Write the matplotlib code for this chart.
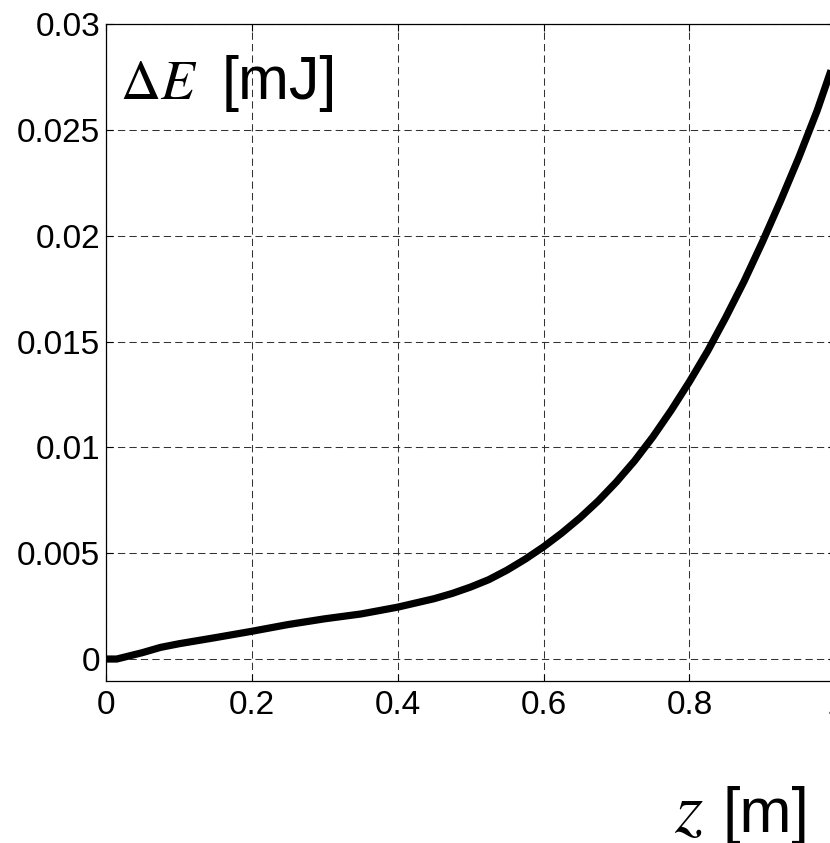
import matplotlib
matplotlib.use("Agg")
import matplotlib.pyplot as plt

plt.rcParams["font.family"] = ["Liberation Sans", "DejaVu Sans"]
plt.rcParams["mathtext.fontset"] = "stix"

# Energy change along the propagation distance
z_m = [0.0, 0.015, 0.05, 0.075, 0.1, 0.15, 0.2, 0.25, 0.3, 0.35, 0.4, 0.45,
       0.475, 0.5, 0.525, 0.55, 0.575, 0.6, 0.625, 0.65, 0.675, 0.7, 0.725,
       0.75, 0.775, 0.8, 0.825, 0.85, 0.875, 0.9, 0.925, 0.95, 0.975, 1.0]
dE_mJ = [0.0, 0.0, 0.00030, 0.00055, 0.00072, 0.00101, 0.00131, 0.00163,
         0.00190, 0.00213, 0.00245, 0.00285, 0.00310, 0.00340, 0.00375,
         0.00420, 0.00472, 0.00530, 0.00595, 0.00667, 0.00747, 0.00837,
         0.00937, 0.01050, 0.01175, 0.01310, 0.01455, 0.01615, 0.01785,
         0.01970, 0.02165, 0.02370, 0.02590, 0.02840]

x_ticks = [0, 0.2, 0.4, 0.6, 0.8, 1.0]
x_ticklabels = ["0", "0.2", "0.4", "0.6", "0.8", "1"]
y_ticks = [0, 0.005, 0.01, 0.015, 0.02, 0.025, 0.03]
y_ticklabels = ["0", "0.005", "0.01", "0.015", "0.02", "0.025", "0.03"]

fig = plt.figure(figsize=(8.30, 8.43), dpi=100)
ax = fig.add_axes([0.1275, 0.1925, 0.8789, 0.779])

ax.plot(z_m, dE_mJ, color="black", lw=5.2, solid_capstyle="butt",
        solid_joinstyle="round", zorder=3)

ax.set_xlim(0, 1.0)
ax.set_ylim(-0.001025, 0.03)
ax.set_xticks(x_ticks)
ax.set_xticklabels(x_ticklabels)
ax.set_yticks(y_ticks)
ax.set_yticklabels(y_ticklabels)

ax.tick_params(direction="in", length=5, width=0.8, top=True, right=True,
               labelsize=24, colors="black")
ax.tick_params(axis="x", pad=7)
ax.tick_params(axis="y", pad=4)

ax.grid(True, color="0.2", linewidth=0.75, linestyle=(0, (7, 4)))
ax.set_axisbelow(True)
for sp in ax.spines.values():
    sp.set_linewidth(0.9)
    sp.set_color("black")

fig.text(0.1446, 0.8826, r"$\Delta E$", fontsize=40, va="baseline",
         ha="left")
fig.text(0.2675, 0.8826, "[mJ]", fontsize=44, va="baseline", ha="left")
fig.text(0.8120, 0.0130, r"$z$", fontsize=52, va="baseline", ha="left")
fig.text(0.8710, 0.0130, "[m]", fontsize=45, va="baseline", ha="left")

fig.savefig("out.png", dpi=100, facecolor="white")
